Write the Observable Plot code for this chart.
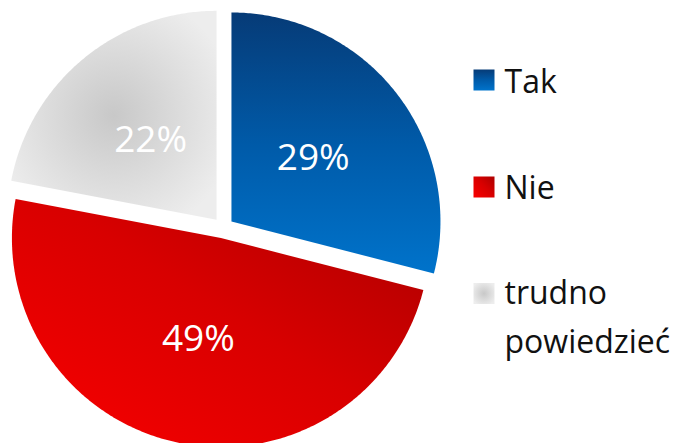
<!DOCTYPE html>
<html>
<head>
<meta charset="utf-8">
<script src="https://cdn.jsdelivr.net/npm/d3@7"></script>
<script src="https://cdn.jsdelivr.net/npm/@observablehq/plot@0.6"></script>
<style>
  html, body { margin: 0; padding: 0; background: #fff; }
  #chart { width: 679px; height: 443px; overflow: hidden; }
</style>
</head>
<body>
<div id="chart"></div>
<script>
// ---- data ----
const categories = ["Tak", "Nie", "trudno powiedzieć"];
const values = [29, 49, 22];
const valueLabels = ["29%", "49%", "22%"];
const legendLabels = ["Tak", "Nie", "trudno\npowiedzieć"];
const fills = ["url(#gBlue)", "url(#gRed)", "url(#gGray)"];

// ---- layout ----
const W = 679, H = 443;
const cx = 222.7, cy = 227.4, R = 209;   // pie centre & radius (px)
const explode = 0.05;                    // offset as fraction of radius
const labelDist = 0.495;

const pie = d3.pie().sort(null).value(d => d.value)(
  categories.map((c, i) => ({category: c, value: values[i], label: valueLabels[i], fill: fills[i]}))
);

const slices = pie.map(p => {
  const mid = (p.startAngle + p.endAngle) / 2;
  const vx = explode * Math.sin(mid), vy = explode * Math.cos(mid);
  const n = Math.max(8, Math.ceil((p.endAngle - p.startAngle) / 0.01));
  const pts = [{x: vx, y: vy}];
  for (let k = 0; k <= n; k++) {
    const a = p.startAngle + (p.endAngle - p.startAngle) * k / n;
    pts.push({x: vx + Math.sin(a), y: vy + Math.cos(a)});
  }
  return {
    ...p.data,
    pts,
    lx: vx + labelDist * Math.sin(mid),
    ly: vy + labelDist * Math.cos(mid)
  };
});

const marks = [];
for (const s of slices) {
  marks.push(Plot.line(s.pts, {x: "x", y: "y", curve: "linear-closed", fill: s.fill, stroke: "none"}));
}
marks.push(Plot.text(slices, {
  x: "lx", y: "ly", text: "label", fill: "white",
  fontFamily: "Open Sans", fontSize: 37, textAnchor: "middle", lineAnchor: "middle"
}));

// legend
const legendSquareDy = [79.5, 186.5, 293];
const legendTextDy = [92, 198, 303.3].map(b => b - 0.71 * 32 - 11);
legendLabels.forEach((lab, i) => {
  marks.push(Plot.dot([lab], {
    frameAnchor: "top-left", dx: 483.5, dy: legendSquareDy[i],
    symbol: "square", r: 11.85, fill: fills[i], stroke: "none"
  }));
  marks.push(Plot.text([lab], {
    frameAnchor: "top-left", dx: 504, dy: legendTextDy[i],
    text: d => d, textAnchor: "start", lineAnchor: "top", lineHeight: 1.51,
    fontFamily: "Open Sans", fontSize: 32, fill: "#111"
  }));
});

const svg = Plot.plot({
  width: W, height: H,
  margin: 0,
  style: {background: "white"},
  x: {domain: [-cx / R, (W - cx) / R], axis: null},
  y: {domain: [-(H - cy) / R, cy / R], axis: null},
  marks
});

d3.select(svg).insert("defs", ":first-child").html(`
  <linearGradient id="gBlue" x1="0" y1="0" x2="0" y2="1">
    <stop offset="0" stop-color="#063b77"/>
    <stop offset="0.5" stop-color="#005aa8"/>
    <stop offset="1" stop-color="#0073cb"/>
  </linearGradient>
  <linearGradient id="gRed" x1="0.95" y1="0.15" x2="0.1" y2="0.95">
    <stop offset="0" stop-color="#b40000"/>
    <stop offset="0.45" stop-color="#d80000"/>
    <stop offset="1" stop-color="#f50000"/>
  </linearGradient>
  <radialGradient id="gGray" cx="0.5" cy="0.5" r="0.6">
    <stop offset="0" stop-color="#c8c8c8"/>
    <stop offset="1" stop-color="#ededed"/>
  </radialGradient>
`);

document.getElementById("chart").appendChild(svg);
</script>
</body>
</html>
